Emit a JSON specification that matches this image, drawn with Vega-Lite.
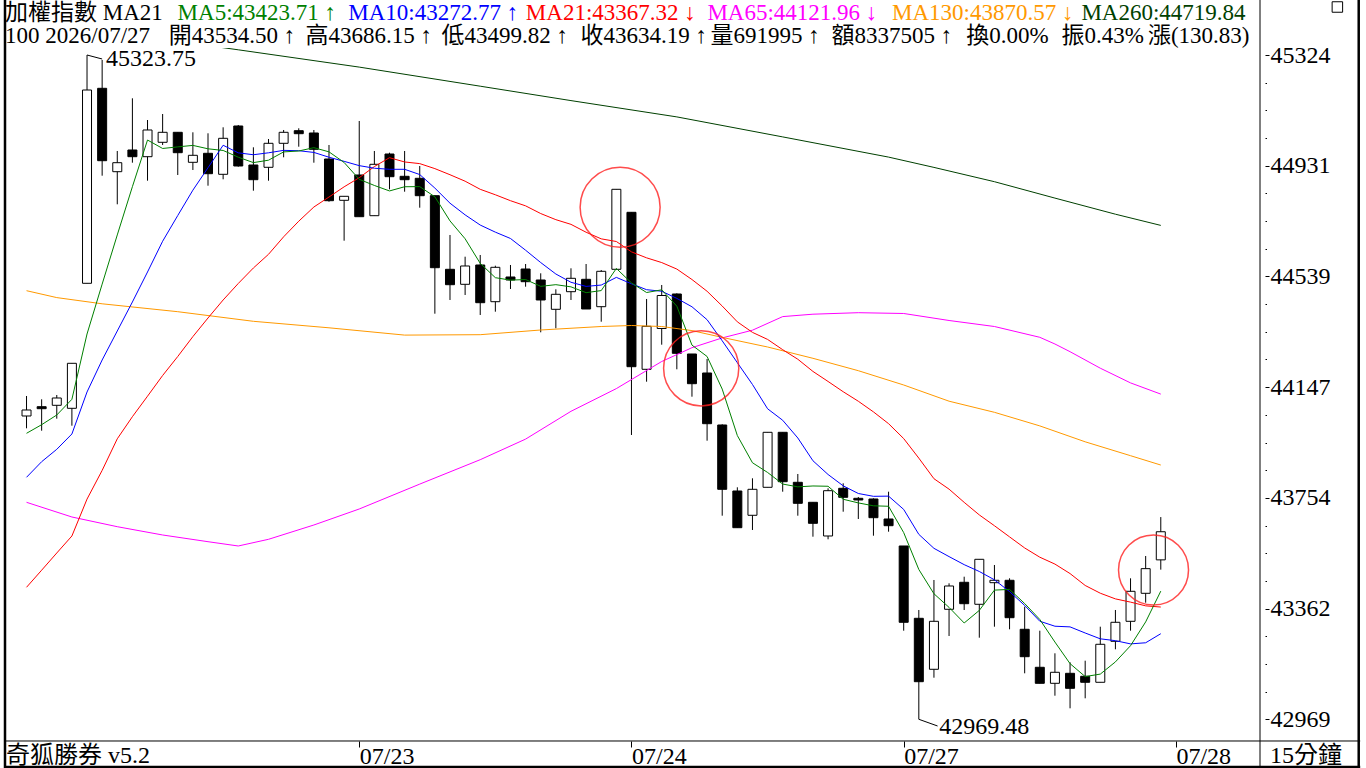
{
"$schema": "https://vega.github.io/schema/vega-lite/v6.json",
"width": 1265, "height": 693,
"autosize": {"type": "none"},
"padding": {"left": 0, "top": 48, "right": 101, "bottom": 27},
"background": "white",
"config": {"view": {"stroke": null}, "axis": {"grid": false, "domain": false}},
"resolve": {"axis": {"y": "independent"}},
"datasets": {
"candles": [
{"i":0,"o":44044.37,"h":44115.25,"l":44000.77,"c":44065.63,"m5":43983.05,"m10":43827.12,"m21":43437.28},
{"i":1,"o":44077.33,"h":44103.55,"l":43992.27,"c":44070.24,"m5":44013.53,"m10":43882.41,"m21":43497.88},
{"i":2,"o":44082.29,"h":44118.79,"l":44034.80,"c":44108.16,"m5":44047.91,"m10":43926.35,"m21":43558.84},
{"i":3,"o":44071.65,"h":44231.13,"l":44009.99,"c":44231.13,"m5":44103.55,"m10":43980.57,"m21":43619.09},
{"i":4,"o":44514.65,"h":45323.75,"l":44514.65,"c":45199.71,"m5":44334.97,"m10":44129.42,"m21":43749.86},
{"i":5,"o":45205.73,"h":45306.03,"l":44895.99,"c":44949.15,"m5":44511.68,"m10":44242.83,"m21":43851.57},
{"i":6,"o":44910.17,"h":44983.53,"l":44794.63,"c":44942.06,"m5":44686.04,"m10":44345.61,"m21":43963.56},
{"i":7,"o":44987.07,"h":45170.29,"l":44942.06,"c":44963.33,"m5":44857.08,"m10":44448.38,"m21":44041.89},
{"i":8,"o":44963.33,"h":45093.39,"l":44878.27,"c":45057.95,"m5":45022.44,"m10":44554.70,"m21":44114.54},
{"i":9,"o":45014.36,"h":45114.65,"l":45004.79,"c":45049.80,"m5":44992.46,"m10":44663.72,"m21":44187.90},
{"i":10,"o":45049.80,"h":45049.80,"l":44898.47,"c":44977.50,"m5":44998.13,"m10":44754.90,"m21":44255.23},
{"i":11,"o":44943.48,"h":45049.80,"l":44916.19,"c":44968.29,"m5":45003.37,"m10":44844.71,"m21":44325.76},
{"i":12,"o":44975.37,"h":45046.25,"l":44860.55,"c":44903.08,"m5":44991.32,"m10":44924.20,"m21":44391.68},
{"i":13,"o":44900.95,"h":45067.52,"l":44883.23,"c":45028.53,"m5":44985.44,"m10":45003.94,"m21":44455.47},
{"i":14,"o":45072.13,"h":45075.67,"l":44927.89,"c":44930.37,"m5":44961.55,"m10":44977.01,"m21":44513.95},
{"i":15,"o":44933.91,"h":44996.64,"l":44842.83,"c":44881.81,"m5":44942.42,"m10":44970.27,"m21":44568.88},
{"i":16,"o":44925.76,"h":45026.05,"l":44878.27,"c":45010.81,"m5":44950.92,"m10":44977.15,"m21":44617.43},
{"i":17,"o":45010.81,"h":45057.95,"l":44961.20,"c":45049.80,"m5":44980.27,"m10":44985.79,"m21":44679.45},
{"i":18,"o":45055.47,"h":45063.97,"l":44998.77,"c":45044.84,"m5":44983.53,"m10":44984.48,"m21":44734.74},
{"i":19,"o":45047.32,"h":45057.95,"l":44942.06,"c":44989.55,"m5":44995.36,"m10":44978.46,"m21":44785.06},
{"i":20,"o":44955.17,"h":45004.79,"l":44803.85,"c":44807.39,"m5":44980.48,"m10":44961.45,"m21":44820.43},
{"i":21,"o":44808.81,"h":44822.98,"l":44665.63,"c":44822.98,"m5":44942.91,"m10":44946.92,"m21":44856.51},
{"i":22,"o":44898.47,"h":45089.85,"l":44750.69,"c":44750.69,"m5":44883.09,"m10":44931.68,"m21":44888.90},
{"i":23,"o":44754.23,"h":44983.53,"l":44754.23,"c":44936.39,"m5":44861.40,"m10":44922.46,"m21":44928.35},
{"i":24,"o":44972.89,"h":44977.50,"l":44847.79,"c":44892.45,"m5":44841.98,"m10":44918.67,"m21":44959.82},
{"i":25,"o":44893.86,"h":44983.53,"l":44839.29,"c":44881.81,"m5":44856.86,"m10":44918.67,"m21":44944.68},
{"i":26,"o":44886.77,"h":44930.37,"l":44782.58,"c":44825.11,"m5":44857.29,"m10":44900.10,"m21":44938.80},
{"i":27,"o":44825.11,"h":44825.11,"l":44406.92,"c":44569.94,"m5":44821.14,"m10":44852.11,"m21":44921.08},
{"i":28,"o":44564.27,"h":44685.83,"l":44455.47,"c":44509.69,"m5":44735.80,"m10":44798.60,"m21":44899.46},
{"i":29,"o":44511.11,"h":44608.93,"l":44473.19,"c":44575.97,"m5":44672.50,"m10":44757.24,"m21":44876.50},
{"i":30,"o":44579.51,"h":44614.95,"l":44402.31,"c":44445.90,"m5":44585.32,"m10":44721.09,"m21":44847.76},
{"i":31,"o":44449.45,"h":44577.03,"l":44414.01,"c":44571.36,"m5":44534.57,"m10":44695.93,"m21":44828.41},
{"i":32,"o":44536.98,"h":44579.51,"l":44494.45,"c":44526.35,"m5":44525.85,"m10":44673.50,"m21":44807.39},
{"i":33,"o":44565.33,"h":44583.05,"l":44502.61,"c":44520.33,"m5":44527.98,"m10":44631.89,"m21":44789.14},
{"i":34,"o":44526.35,"h":44550.09,"l":44341.00,"c":44455.47,"m5":44503.88,"m10":44588.19,"m21":44761.85},
{"i":35,"o":44422.51,"h":44493.39,"l":44355.17,"c":44475.67,"m5":44509.84,"m10":44547.58,"m21":44740.20},
{"i":36,"o":44484.89,"h":44567.81,"l":44455.47,"c":44532.37,"m5":44502.04,"m10":44518.31,"m21":44723.57},
{"i":37,"o":44528.83,"h":44583.05,"l":44423.57,"c":44423.57,"m5":44481.48,"m10":44503.67,"m21":44695.61},
{"i":38,"o":44431.73,"h":44561.79,"l":44378.57,"c":44557.18,"m5":44488.85,"m10":44508.42,"m21":44672.15},
{"i":39,"o":44564.27,"h":44847.79,"l":44564.27,"c":44847.79,"m5":44567.32,"m10":44535.60,"m21":44662.76},
{"i":40,"o":44766.28,"h":44766.28,"l":43977.03,"c":44219.09,"m5":44516.00,"m10":44512.92,"m21":44626.08},
{"i":41,"o":44209.87,"h":44459.01,"l":44165.93,"c":44362.26,"m5":44481.98,"m10":44492.01,"m21":44604.89},
{"i":42,"o":44354.47,"h":44508.63,"l":44297.05,"c":44471.42,"m5":44491.55,"m10":44486.52,"m21":44588.12},
{"i":43,"o":44476.73,"h":44479.21,"l":44209.87,"c":44266.57,"m5":44433.43,"m10":44461.14,"m21":44565.09},
{"i":44,"o":44264.09,"h":44264.09,"l":44112.77,"c":44158.84,"m5":44295.64,"m10":44431.48,"m21":44528.05},
{"i":45,"o":44196.76,"h":44246.37,"l":43956.83,"c":44017.08,"m5":44255.23,"m10":44385.62,"m21":44486.37},
{"i":46,"o":44012.47,"h":44014.95,"l":43691.03,"c":43784.59,"m5":44139.70,"m10":44310.84,"m21":44434.14},
{"i":47,"o":43778.57,"h":43791.64,"l":43648.50,"c":43648.50,"m5":43975.12,"m10":44233.33,"m21":44378.10},
{"i":48,"o":43692.45,"h":43823.57,"l":43640.35,"c":43784.59,"m5":43878.72,"m10":44156.07,"m21":44340.68},
{"i":49,"o":43791.64,"h":43986.60,"l":43791.64,"c":43986.60,"m5":43844.27,"m10":44069.95,"m21":44315.80},
{"i":50,"o":43986.60,"h":43986.60,"l":43776.09,"c":43811.53,"m5":43803.16,"m10":44029.20,"m21":44279.37},
{"i":51,"o":43809.40,"h":43838.81,"l":43691.03,"c":43734.97,"m5":43793.24,"m10":43966.47,"m21":44245.52},
{"i":52,"o":43738.52,"h":43738.52,"l":43616.61,"c":43664.09,"m5":43796.36,"m10":43885.74,"m21":44202.32},
{"i":53,"o":43619.09,"h":43788.13,"l":43607.39,"c":43779.63,"m5":43795.37,"m10":43837.04,"m21":44166.78},
{"i":54,"o":43788.13,"h":43805.85,"l":43705.21,"c":43756.20,"m5":43749.29,"m10":43796.78,"m21":44130.38},
{"i":55,"o":43752.69,"h":43757.30,"l":43679.33,"c":43746.67,"m5":43736.32,"m10":43769.74,"m21":44096.64},
{"i":56,"o":43750.21,"h":43752.69,"l":43620.15,"c":43683.94,"m5":43726.11,"m10":43759.68,"m21":44058.93},
{"i":57,"o":43679.33,"h":43776.09,"l":43634.33,"c":43655.59,"m5":43724.41,"m10":43760.38,"m21":44017.18},
{"i":58,"o":43583.65,"h":43583.65,"l":43283.47,"c":43313.24,"m5":43631.14,"m10":43713.25,"m21":43964.31},
{"i":59,"o":43327.41,"h":43356.83,"l":42969.48,"c":43102.73,"m5":43500.43,"m10":43624.86,"m21":43895.06},
{"i":60,"o":43146.67,"h":43463.15,"l":43116.90,"c":43316.78,"m5":43414.46,"m10":43575.39,"m21":43822.16},
{"i":61,"o":43359.31,"h":43451.45,"l":43264.69,"c":43441.89,"m5":43366.04,"m10":43546.08,"m21":43785.12},
{"i":62,"o":43455.00,"h":43474.85,"l":43356.83,"c":43379.16,"m5":43310.76,"m10":43517.57,"m21":43738.31},
{"i":63,"o":43377.03,"h":43536.51,"l":43258.66,"c":43536.51,"m5":43355.41,"m10":43493.27,"m21":43693.79},
{"i":64,"o":43453.58,"h":43516.31,"l":43297.65,"c":43462.09,"m5":43427.28,"m10":43463.86,"m21":43655.48},
{"i":65,"o":43462.09,"h":43469.17,"l":43288.43,"c":43329.54,"m5":43429.84,"m10":43422.15,"m21":43616.00},
{"i":66,"o":43288.43,"h":43368.53,"l":43132.49,"c":43191.33,"m5":43379.72,"m10":43372.88,"m21":43576.66},
{"i":67,"o":43153.76,"h":43283.47,"l":43097.05,"c":43097.05,"m5":43323.30,"m10":43317.03,"m21":43543.95},
{"i":68,"o":43097.05,"h":43203.37,"l":43053.11,"c":43136.04,"m5":43243.21,"m10":43299.31,"m21":43519.54},
{"i":69,"o":43132.49,"h":43171.48,"l":43008.45,"c":43079.33,"m5":43166.66,"m10":43296.97,"m21":43485.94},
{"i":70,"o":43121.86,"h":43177.15,"l":43043.89,"c":43100.60,"m5":43120.87,"m10":43275.35,"m21":43443.76},
{"i":71,"o":43100.60,"h":43297.65,"l":43100.60,"c":43235.27,"m5":43129.66,"m10":43254.69,"m21":43416.33},
{"i":72,"o":43245.90,"h":43356.83,"l":43217.55,"c":43313.24,"m5":43172.90,"m10":43248.10,"m21":43396.24},
{"i":73,"o":43316.78,"h":43469.17,"l":43283.47,"c":43423.10,"m5":43230.31,"m10":43236.76,"m21":43384.76},
{"i":74,"o":43416.01,"h":43548.21,"l":43382.70,"c":43503.36,"m5":43314.66,"m10":43240.66,"m21":43371.50},
{"i":75,"o":43534.50,"h":43686.15,"l":43499.82,"c":43634.19,"m5":43423.71,"m10":43272.77,"m21":43367.32}
],
"mas": [
{"i":0,"s":"MA65","v":43738.52},{"i":3,"s":"MA65","v":43686.42},{"i":6,"s":"MA65","v":43652.05},{"i":9,"s":"MA65","v":43622.63},{"i":12,"s":"MA65","v":43598.89},{"i":14,"s":"MA65","v":43583.65},{"i":16,"s":"MA65","v":43607.39},{"i":19,"s":"MA65","v":43658.07},{"i":22,"s":"MA65","v":43714.77},{"i":26,"s":"MA65","v":43803.02},{"i":30,"s":"MA65","v":43889.49},{"i":33,"s":"MA65","v":43962.50},{"i":36,"s":"MA65","v":44061.02},{"i":39,"s":"MA65","v":44141.47},{"i":42,"s":"MA65","v":44237.51},{"i":44,"s":"MA65","v":44286.42},{"i":46,"s":"MA65","v":44321.15},{"i":48,"s":"MA65","v":44348.44},{"i":50,"s":"MA65","v":44396.64},{"i":52,"s":"MA65","v":44405.15},{"i":55,"s":"MA65","v":44410.46},{"i":58,"s":"MA65","v":44407.63},{"i":61,"s":"MA65","v":44382.82},{"i":64,"s":"MA65","v":44361.55},{"i":67,"s":"MA65","v":44323.28},{"i":68,"s":"MA65","v":44299.53},{"i":69,"s":"MA65","v":44272.25},{"i":71,"s":"MA65","v":44213.77},{"i":73,"s":"MA65","v":44161.69},{"i":75,"s":"MA65","v":44121.96},
{"i":0,"s":"MA130","v":44488.43},{"i":2,"s":"MA130","v":44463.98},{"i":5,"s":"MA130","v":44442.00},{"i":10,"s":"MA130","v":44414.01},{"i":15,"s":"MA130","v":44379.98},{"i":20,"s":"MA130","v":44356.95},{"i":25,"s":"MA130","v":44331.08},{"i":30,"s":"MA130","v":44332.49},{"i":34,"s":"MA130","v":44349.15},{"i":38,"s":"MA130","v":44361.55},{"i":40,"s":"MA130","v":44365.10},{"i":42,"s":"MA130","v":44361.55},{"i":44,"s":"MA130","v":44347.02},{"i":46,"s":"MA130","v":44322.92},{"i":49,"s":"MA130","v":44288.90},{"i":52,"s":"MA130","v":44248.85},{"i":55,"s":"MA130","v":44204.91},{"i":58,"s":"MA130","v":44154.23},{"i":61,"s":"MA130","v":44096.82},{"i":64,"s":"MA130","v":44057.48},{"i":67,"s":"MA130","v":44009.28},{"i":70,"s":"MA130","v":43952.93},{"i":73,"s":"MA130","v":43903.67},{"i":75,"s":"MA130","v":43870.57},
{"i":0,"s":"MA260","v":45447.79},{"i":7,"s":"MA260","v":45394.63},{"i":14,"s":"MA260","v":45342.18},{"i":22,"s":"MA260","v":45280.87},{"i":30,"s":"MA260","v":45213.18},{"i":36,"s":"MA260","v":45162.14},{"i":43,"s":"MA260","v":45104.38},{"i":50,"s":"MA260","v":45033.50},{"i":57,"s":"MA260","v":44961.91},{"i":60,"s":"MA260","v":44925.40},{"i":64,"s":"MA260","v":44874.73},{"i":68,"s":"MA260","v":44816.60},{"i":72,"s":"MA260","v":44759.55},{"i":75,"s":"MA260","v":44719.84}
],
"circ": [{"k":1,"i":39.25,"p":44784.0},{"k":2,"i":44.61,"p":44213.41},{"k":3,"i":74.52,"p":43498.59}],
"lead": [{"i":4,"i2":5,"p":45323.75,"p2":45309.57},{"i":59,"i2":60.24,"p":42969.48,"p2":42945.73}],
"marks": [{"i":5.25,"p":45308.51,"t":"45323.75"},{"i":60.35,"p":42940.41,"t":"42969.48"}],
"hdr": [
{"i":-1.4235,"p":45449.56,"s":"base","t":"加權指數 MA21"},
{"i":9.99,"p":45449.56,"s":"MA5","t":"MA5:43423.71 ↑"},
{"i":21.274,"p":45449.56,"s":"MA10","t":"MA10:43272.77 ↑"},
{"i":33.016,"p":45449.56,"s":"MA21","t":"MA21:43367.32 ↓"},
{"i":45.021,"p":45449.56,"s":"MA65","t":"MA65:44121.96 ↓"},
{"i":57.223,"p":45449.56,"s":"MA130","t":"MA130:43870.57 ↓"},
{"i":69.752,"p":45449.56,"s":"MA260","t":"MA260:44719.84"},
{"i":-1.4235,"p":45364.51,"s":"base","t":"100 2026/07/27"},
{"i":9.40,"p":45364.51,"s":"base","t":"開43534.50 ↑"},
{"i":18.453,"p":45364.51,"s":"base","t":"高43686.15 ↑"},
{"i":27.44,"p":45364.51,"s":"base","t":"低43499.82 ↑"},
{"i":36.624,"p":45364.51,"s":"base","t":"收43634.19 ↑"},
{"i":45.218,"p":45364.51,"s":"base","t":"量691995 ↑"},
{"i":53.22,"p":45364.51,"s":"base","t":"額8337505 ↑"},
{"i":62.14,"p":45364.51,"s":"base","t":"換0.00%"},
{"i":68.44,"p":45364.51,"s":"base","t":"振0.43%"},
{"i":74.147,"p":45364.51,"s":"base","t":"漲(130.83)"}
],
"foot": [{"i":-1.36,"p":42814.60,"t":"奇狐勝券 v5.2"},{"i":82.216,"p":42814.60,"t":"15分鐘"}],
"thin": [{"i":81.56,"i2":81.56,"p":45518.67,"p2":42796.88},{"i":-1.4235,"i2":88.185,"p":42892.57,"p2":42892.57}],
"thick": [{"i":-1.4235,"i2":-1.4235,"p":45518.67,"p2":42796.88},{"i":-1.4235,"i2":88.185,"p":42800.42,"p2":42800.42},{"i":88.087,"i2":88.087,"p":45518.67,"p2":42796.88}],
"icon": [{"i":86.676,"p":45493.86}]
},
"encoding": {
"x": {"field": "i", "type": "quantitative", "scale": {"domain": [-1.4235, 81.56], "nice": false, "zero": false},
"axis": {"title": null, "values": [22, 40, 58, 76], "labelExpr": "datum.value == 22 ? '07/23' : datum.value == 40 ? '07/24' : datum.value == 58 ? '07/27' : '07/28'", "tickSize": 6, "tickColor": "black", "tickWidth": 1, "labelAlign": "left", "labelBaseline": "alphabetic", "labelPadding": 16, "labelDx": 1, "labelFont": "Liberation Serif", "labelFontSize": 24, "labelColor": "black", "labelOverlap": false, "labelFlush": false, "domain": false}}
},
"layer": [
{"data": {"name": "thin"}, "mark": {"type": "rule", "color": "black", "strokeWidth": 1},
 "encoding": {"x2": {"field": "i2"},
   "y": {"field": "p", "type": "quantitative", "scale": {"domain": [42892.55, 45348.56], "nice": false, "zero": false},
   "axis": {"orient": "right", "title": null, "domain": false, "format": ".0f",
     "values": [42969.48, 43067.57, 43165.67, 43263.76, 43361.86, 43459.95, 43558.05, 43656.14, 43754.24, 43852.33, 43950.43, 44048.52, 44146.62, 44244.71, 44342.80, 44440.90, 44538.99, 44637.09, 44735.18, 44833.28, 44931.37, 45029.47, 45127.56, 45225.66, 45323.75],
     "labelExpr": "abs((datum.value-42969.48)/392.378 - round((datum.value-42969.48)/392.378)) < 0.01 ? datum.label : ''",
     "tickDash": {"condition": {"test": "abs((datum.value-42969.48)/392.378 - round((datum.value-42969.48)/392.378)) < 0.01", "value": []}, "value": [1.5, 10]},
     "tickSize": 4, "tickColor": "black", "tickWidth": 1, "labelAlign": "left", "labelBaseline": "middle", "labelPadding": 1,
     "labelFont": "Liberation Serif", "labelFontSize": 24, "labelColor": "black", "labelOverlap": false, "labelFlush": false}},
   "y2": {"field": "p2"}}},
{"data": {"name": "thick"}, "mark": {"type": "rule", "color": "black", "strokeWidth": 2.5},
 "encoding": {"x2": {"field": "i2"}, "y": {"field": "p", "type": "quantitative", "scale": {"domain": [42892.55, 45348.56], "nice": false, "zero": false}, "axis": null}, "y2": {"field": "p2"}}},
{"data": {"name": "candles"}, "mark": {"type": "rule", "color": "black", "strokeWidth": 1},
 "encoding": {"y": {"field": "l", "type": "quantitative", "scale": {"domain": [42892.55, 45348.56], "nice": false, "zero": false}, "axis": null},
   "y2": {"field": "h"}}},
{"data": {"name": "candles"}, "mark": {"type": "bar", "width": 9, "stroke": "black", "strokeWidth": 1},
 "encoding": {"y": {"field": "o", "type": "quantitative", "scale": {"domain": [42892.55, 45348.56], "nice": false, "zero": false}, "axis": null}, "y2": {"field": "c"},
   "fill": {"condition": {"test": "datum.c >= datum.o", "value": "white"}, "value": "black"}}},
{"data": {"name": "mas"}, "mark": {"type": "line", "strokeWidth": 1, "clip": true},
 "encoding": {"y": {"field": "v", "type": "quantitative", "scale": {"domain": [42892.55, 45348.56], "nice": false, "zero": false}, "axis": null},
   "color": {"field": "s", "type": "nominal", "scale": {"domain": ["base","MA5","MA10","MA21","MA65","MA130","MA260"], "range": ["#000000","#008000","#0000FF","#FF0000","#FF00FF","#FF9900","#004000"]}, "legend": null}}},
{"data": {"name": "candles"}, "mark": {"type": "line", "strokeWidth": 1, "clip": true, "color": "#FF0000"},
 "encoding": {"y": {"field": "m21", "type": "quantitative", "scale": {"domain": [42892.55, 45348.56], "nice": false, "zero": false}, "axis": null}}},
{"data": {"name": "candles"}, "mark": {"type": "line", "strokeWidth": 1, "clip": true, "color": "#0000FF"},
 "encoding": {"y": {"field": "m10", "type": "quantitative", "scale": {"domain": [42892.55, 45348.56], "nice": false, "zero": false}, "axis": null}}},
{"data": {"name": "candles"}, "mark": {"type": "line", "strokeWidth": 1, "clip": true, "color": "#008000"},
 "encoding": {"y": {"field": "m5", "type": "quantitative", "scale": {"domain": [42892.55, 45348.56], "nice": false, "zero": false}, "axis": null}}},
{"data": {"name": "circ"}, "mark": {"type": "point", "shape": "circle", "filled": false, "color": "#FF2020", "stroke": "#FF2020", "strokeWidth": 1.5, "opacity": 0.8},
 "encoding": {"y": {"field": "p", "type": "quantitative", "scale": {"domain": [42892.55, 45348.56], "nice": false, "zero": false}, "axis": null},
   "size": {"field": "k", "type": "ordinal", "scale": {"domain": [1, 2, 3], "range": [6400, 4900, 4356]}, "legend": null}}},
{"data": {"name": "lead"}, "mark": {"type": "rule", "color": "black", "strokeWidth": 1},
 "encoding": {"x2": {"field": "i2"}, "y": {"field": "p", "type": "quantitative", "scale": {"domain": [42892.55, 45348.56], "nice": false, "zero": false}, "axis": null}, "y2": {"field": "p2"}}},
{"data": {"name": "marks"}, "mark": {"type": "text", "align": "left", "baseline": "middle", "font": "Liberation Serif", "fontSize": 24, "color": "black"},
 "encoding": {"y": {"field": "p", "type": "quantitative", "scale": {"domain": [42892.55, 45348.56], "nice": false, "zero": false}, "axis": null}, "text": {"field": "t"}}},
{"data": {"name": "hdr"}, "mark": {"type": "text", "align": "left", "baseline": "alphabetic", "font": "Liberation Serif, Noto Sans CJK TC", "fontSize": 23},
 "encoding": {"y": {"field": "p", "type": "quantitative", "scale": {"domain": [42892.55, 45348.56], "nice": false, "zero": false}, "axis": null}, "text": {"field": "t"},
   "color": {"field": "s", "type": "nominal", "legend": null}}},
{"data": {"name": "foot"}, "mark": {"type": "text", "align": "left", "baseline": "alphabetic", "font": "Liberation Serif, Noto Sans CJK TC", "fontSize": 24, "color": "black"},
 "encoding": {"y": {"field": "p", "type": "quantitative", "scale": {"domain": [42892.55, 45348.56], "nice": false, "zero": false}, "axis": null}, "text": {"field": "t"}}},
{"data": {"name": "icon"}, "mark": {"type": "point", "shape": "square", "filled": false, "color": "black", "strokeWidth": 1, "opacity": 1},
 "encoding": {"y": {"field": "p", "type": "quantitative", "scale": {"domain": [42892.55, 45348.56], "nice": false, "zero": false}, "axis": null}, "size": {"value": 110}}}
]
}
